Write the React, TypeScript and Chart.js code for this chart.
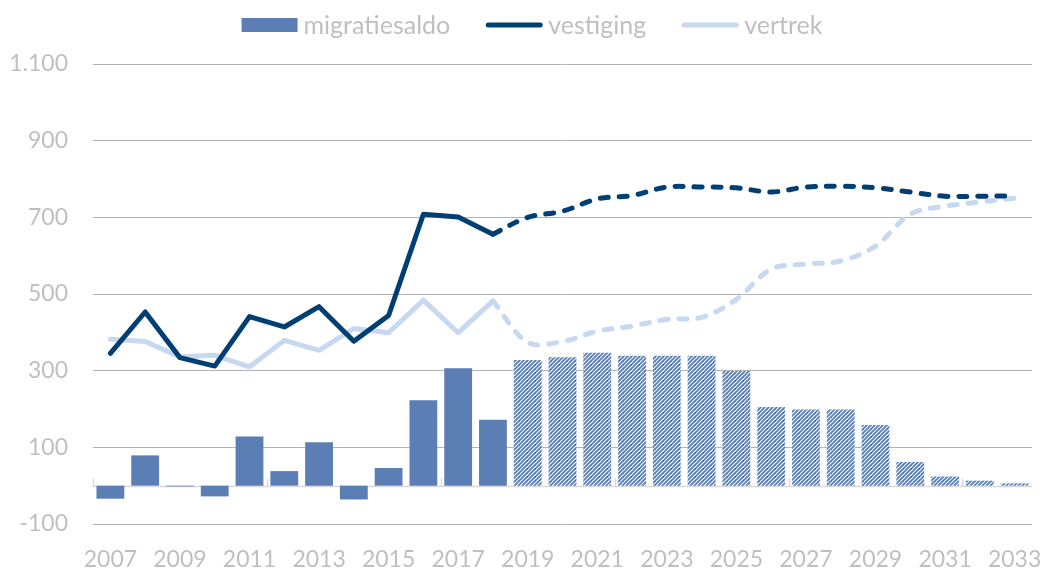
import React, { useEffect, useRef } from 'react';
import { Chart, registerables } from 'chart.js';

Chart.register(...registerables);

const years = ['2007', '2008', '2009', '2010', '2011', '2012', '2013', '2014', '2015', '2016', '2017', '2018', '2019', '2020', '2021', '2022', '2023', '2024', '2025', '2026', '2027', '2028', '2029', '2030', '2031', '2032', '2033'];
const migratiesaldo = [-34, 79, -2, -28, 128, 38, 113, -36, 46, 223, 306, 172, 328, 335, 347, 339, 339, 339, 299, 205, 199, 199, 158, 62, 24, 13, 6];
const vestiging = [345, 453, 334, 312, 441, 414, 467, 377, 444, 708, 701, 656, 700, 716, 748, 757, 779, 779, 777, 766, 779, 781, 777, 766, 755, 755, 756];
const vertrek = [382, 376, 336, 340, 310, 379, 353, 410, 399, 484, 399, 482, 374, 376, 403, 416, 434, 439, 486, 565, 578, 586, 625, 708, 729, 740, 750];
const lastActualIndex = 11; // 2018
const yMin = -100;
const yMax = 1100;
const yStep = 200;
const seriesNames = ['migratiesaldo', 'vestiging', 'vertrek'];

const BAR = '#5b7fb5';
const DARK = '#003f73';
const LIGHT = '#c6d9f0';
const TEXT = '#bfbfbf';
const GRID = '#b3b3b3';
const FONT_FAMILY = 'Lato, "Open Sans", sans-serif';
const LEGEND_SIZE = 25;
const TICK_SIZE = 23;

function makeHatch(target: CanvasRenderingContext2D, color: string) {
  const c = document.createElement('canvas');
  c.width = 8;
  c.height = 8;
  const g = c.getContext('2d')!;
  g.fillStyle = '#ffffff';
  g.fillRect(0, 0, 8, 8);
  g.strokeStyle = color;
  g.lineWidth = 1.9;
  for (let k = -3; k <= 3; k++) {
    const x0 = k * 4;
    g.beginPath();
    g.moveTo(x0 - 2, 10);
    g.lineTo(x0 + 10, -2);
    g.stroke();
  }
  return target.createPattern(c, 'repeat');
}

const zeroLine = {
  id: 'zeroLine',
  beforeDatasetsDraw(chart: any) {
    const { ctx, chartArea, scales } = chart;
    const y0 = Math.round(scales.y.getPixelForValue(0)) + 0.5;
    ctx.save();
    ctx.strokeStyle = '#d9d9d9';
    ctx.lineWidth = 1.5;
    ctx.beginPath();
    ctx.moveTo(chartArea.left, y0);
    ctx.lineTo(chartArea.right, y0);
    const n = years.length;
    for (let i = 0; i <= n; i += 5) {
      const xx = Math.round(chartArea.left + (i * chartArea.width) / n) + 0.5;
      ctx.moveTo(xx, y0);
      ctx.lineTo(xx, y0 - 8);
    }
    ctx.stroke();
    ctx.restore();
  },
};

const legendItems = [
  { text: seriesNames[0], color: BAR, kind: 'box' },
  { text: seriesNames[1], color: DARK, kind: 'line' },
  { text: seriesNames[2], color: LIGHT, kind: 'line' },
];

const customLegend = {
  id: 'customLegend',
  afterDraw(chart: any) {
    const { ctx } = chart;
    const symW = 56;
    const gap = 6;
    const itemGap = 36;
    const cy = 25;
    const centerX = 532;
    ctx.save();
    ctx.font = `${LEGEND_SIZE}px ${FONT_FAMILY}`;
    const widths = legendItems.map((it) => symW + gap + ctx.measureText(it.text).width);
    const total = widths.reduce((a, b) => a + b, 0) + itemGap * (legendItems.length - 1);
    let x = centerX - total / 2;
    legendItems.forEach((it, i) => {
      if (it.kind === 'box') {
        ctx.fillStyle = it.color;
        ctx.fillRect(x, cy - 7, symW, 14);
      } else {
        ctx.strokeStyle = it.color;
        ctx.lineWidth = 5;
        ctx.lineCap = 'round';
        ctx.beginPath();
        ctx.moveTo(x + 2, cy);
        ctx.lineTo(x + symW - 2, cy);
        ctx.stroke();
      }
      ctx.fillStyle = TEXT;
      ctx.textBaseline = 'middle';
      ctx.textAlign = 'left';
      ctx.fillText(it.text, x + symW + gap, cy + 1);
      x += widths[i] + itemGap;
    });
    ctx.restore();
  },
};

export default function App() {
  const ref = useRef<HTMLCanvasElement | null>(null);

  useEffect(() => {
    const canvas = ref.current!;
    const ctx = canvas.getContext('2d')!;
    const hatch = makeHatch(ctx, BAR);

    const actual = (arr: number[]) => arr.map((v, i) => (i <= lastActualIndex ? v : null));
    const projected = (arr: number[]) => arr.map((v, i) => (i >= lastActualIndex ? v : null));

    const lineBase = { borderWidth: 5, pointRadius: 0, order: 1, borderCapStyle: 'round' };

    const chart = new Chart(canvas, {
      type: 'bar',
      data: {
        labels: years,
        datasets: [
          {
            type: 'bar',
            label: seriesNames[0],
            data: migratiesaldo,
            backgroundColor: (c: any) => (c.dataIndex > lastActualIndex ? hatch : BAR),
            borderWidth: 0,
            barPercentage: 0.8,
            categoryPercentage: 1,
            order: 2,
          },
          { type: 'line', label: seriesNames[1], data: actual(vestiging), borderColor: DARK, tension: 0, borderJoinStyle: 'round', ...lineBase },
          { type: 'line', label: seriesNames[1] + ' prognose', data: projected(vestiging), borderColor: DARK, tension: 0.35, borderDash: [8, 11], ...lineBase },
          { type: 'line', label: seriesNames[2], data: actual(vertrek), borderColor: LIGHT, tension: 0, borderJoinStyle: 'round', ...lineBase },
          { type: 'line', label: seriesNames[2] + ' prognose', data: projected(vertrek), borderColor: LIGHT, tension: 0.35, borderDash: [8, 11], ...lineBase },
        ] as any,
      },
      options: {
        responsive: true,
        maintainAspectRatio: false,
        animation: false,
        layout: { padding: { left: 0, right: 10, top: 64, bottom: 0 } },
        plugins: {
          tooltip: { enabled: false },
          legend: { display: false },
        },
        scales: {
          x: {
            grid: { display: false },
            border: { display: false },
            ticks: {
              autoSkip: false,
              maxRotation: 0,
              minRotation: 0,
              padding: 14,
              color: TEXT,
              font: { family: FONT_FAMILY, size: TICK_SIZE },
              callback: (_v: any, i: number) => (i % 2 === 0 ? years[i] : ''),
            },
            afterFit: (s: any) => {
              s.height = 45;
              s.paddingLeft = 0;
              s.paddingRight = 0;
            },
          },
          y: {
            min: yMin,
            max: yMax,
            border: { display: false },
            grid: { color: GRID, lineWidth: 1, drawTicks: false },
            ticks: {
              stepSize: yStep,
              padding: 25,
              color: TEXT,
              font: { family: FONT_FAMILY, size: TICK_SIZE },
              callback: (v: any) => String(v).replace(/\B(?=(\d{3})+(?!\d))/g, '.'),
            },
            afterFit: (s: any) => {
              s.width = 93;
              s.paddingTop = 0;
              s.paddingBottom = 0;
            },
          },
        },
      },
      plugins: [zeroLine, customLegend],
    });
    return () => chart.destroy();
  }, []);

  return (
    <div style={{ position: 'fixed', left: 0, top: 0, width: 1042, height: 569, background: '#fff' }}>
      <canvas ref={ref} />
    </div>
  );
}
